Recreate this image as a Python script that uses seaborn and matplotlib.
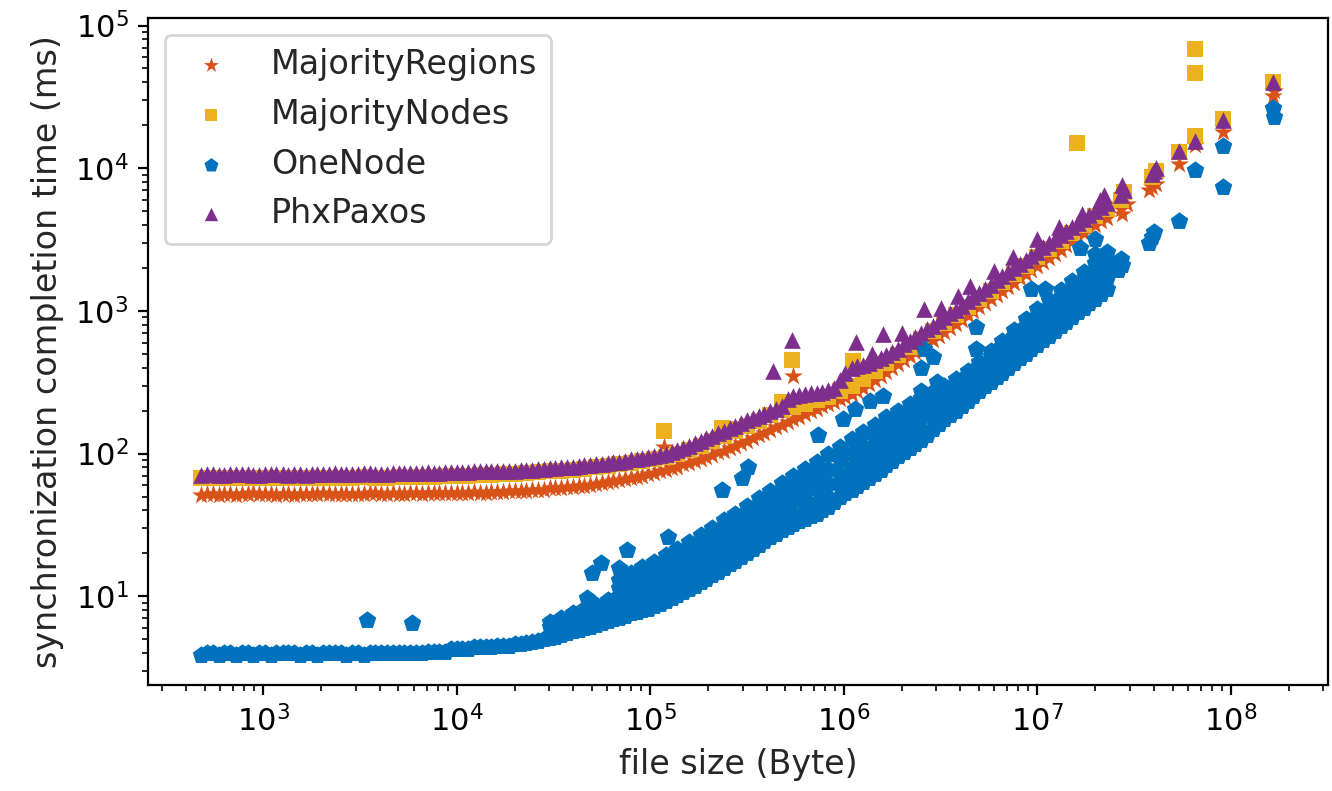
import numpy as np
import pandas as pd
import matplotlib
matplotlib.use("Agg")
import matplotlib.pyplot as plt
import matplotlib.ticker as mticker
import seaborn as sns

# file sizes (Byte) of the dense part of the sweep
file_size = [480, 550, 631, 724, 832, 955, 1100, 1260, 1450, 1660, 1900, 2190,
             2510, 2880, 3310, 3800, 4370, 5010, 5750, 6610, 7590, 8710, 10000,
             11500, 13200, 15100, 17400, 20000, 22900, 26300, 30200, 34700,
             39800, 45700, 52500, 60300, 69200, 79400, 91200, 105000, 120000,
             138000, 158000, 182000, 209000, 240000, 275000, 316000, 363000,
             417000, 479000, 550000, 631000, 724000, 832000, 955000, 1.10e6,
             1.26e6, 1.45e6, 1.66e6, 1.91e6, 2.19e6, 2.51e6, 2.88e6, 3.31e6,
             3.80e6, 4.37e6, 5.01e6, 5.75e6, 6.61e6, 7.59e6, 8.71e6, 1.00e7,
             1.15e7, 1.32e7, 1.51e7, 1.74e7, 2.00e7, 2.29e7]
# sizes in between the ones above
file_size_b = [513, 589, 676, 776, 891, 1020, 1170, 1350, 1550, 1780, 2040, 2340,
               2690, 3090, 3550, 4070, 4680, 5370, 6170, 7080, 8130, 9330, 10700,
               12300, 14100, 16200, 18600, 21400, 24500, 28200, 32400, 37200,
               42700, 49000, 56200, 64600, 74100, 85100, 97700, 112000, 129000,
               148000, 170000, 195000, 224000, 257000, 295000, 339000, 389000,
               447000, 513000, 589000, 676000, 776000, 891000, 1.02e6, 1.17e6,
               1.35e6, 1.55e6, 1.78e6, 2.04e6, 2.34e6, 2.69e6, 3.09e6, 3.55e6,
               4.07e6, 4.68e6, 5.37e6, 6.17e6, 7.08e6, 8.13e6, 9.33e6, 1.07e7,
               1.23e7, 1.41e7, 1.62e7, 1.86e7, 2.14e7]

# completion times (ms)
regions_ms = [51, 52, 52, 51, 52, 52, 52, 52, 51, 52, 52, 52, 52, 52, 52, 53, 52,
              52, 53, 52, 53, 53, 53,
              53, 53, 54, 54, 55, 55, 56, 57, 57, 58, 59, 61, 63, 65, 68, 70,
              73, 77, 81, 86, 92, 98, 105, 114, 123, 134, 146, 160, 175, 190, 206, 222,
              240, 260, 290, 330, 375, 425, 485, 550, 625, 715, 815, 930, 1060, 1210,
              1380, 1580, 1800, 2060, 2350, 2690, 3070, 3500, 3990, 4500]
regions_b_ms = [52, 51, 52, 52, 53, 52, 51, 52, 52, 52, 53, 52, 52, 52, 53, 52, 53,
                52, 53, 53, 53, 53,
                53, 54, 53, 54, 55, 55, 56, 56, 57, 58, 59, 60, 62, 64, 66, 69, 72,
                75, 79, 84, 89, 95, 102, 110, 118, 128, 140, 153, 167, 182, 198, 214, 231,
                250, 275, 310, 352, 400, 455, 515, 588, 670, 765, 870, 995, 1135, 1295,
                1480, 1690, 1930, 2200, 2520, 2880, 3280, 3740, 4250]
nodes_ms = [68, 68, 67, 68, 68, 67, 68, 68, 68, 67, 68, 68, 68, 68, 69, 68, 68,
            69, 69, 69, 69, 70, 70,
            70, 71, 71, 72, 72, 73, 74, 75, 76, 77, 78, 80, 82, 84, 86, 89,
            91, 95, 100, 106, 113, 122, 132, 144, 156, 170, 186, 201, 212, 223, 236, 250,
            276, 300, 333, 380, 431, 489, 558, 632, 719, 822, 937, 1070, 1220, 1390,
            1590, 1820, 2070, 2370, 2700, 3090, 3530, 4030, 4590, 5180]
paxos_ms = [71, 72, 71, 72, 72, 71, 72, 72, 72, 71, 72, 72, 72, 72, 73, 72, 72,
            73, 73, 73, 73, 74, 74,
            74, 75, 75, 76, 76, 77, 78, 79, 80, 81, 83, 84, 86, 88, 91, 93,
            96, 100, 106, 114, 123, 133, 145, 157, 172, 185, 198, 215, 255, 262, 268, 278,
            330, 400, 420, 450, 490, 545, 620, 700, 790, 900, 1020, 1170, 1340, 1530,
            1750, 2000, 2280, 2600, 2980, 3400, 3880, 4420, 5000, 5700]
paxos_b_ms = [72, 71, 72, 72, 71, 72, 72, 71, 72, 72, 72, 73, 72, 72, 73, 72, 73,
              73, 73, 74, 73, 74,
              74, 75, 75, 76, 76, 77, 77, 78, 79, 80, 82, 83, 85, 87, 89, 92, 94,
              98, 103, 110, 118, 128, 139, 151, 164, 178, 191, 205, 240, 258, 265, 272, 290,
              370, 410, 435, 470, 518, 582, 660, 745, 845, 960, 1090, 1250, 1430, 1640,
              1870, 2140, 2440, 2790, 3190, 3640, 4150, 4700, 5350]
onenode_ms = [3.9, 4.0, 4.0, 3.9, 4.0, 4.0, 3.9, 4.0, 4.0, 4.0, 3.9, 4.0, 4.0, 4.0,
              3.9, 4.0, 4.0, 4.0, 4.0, 4.0, 4.1, 4.1,
              4.3, 4.3, 4.4, 4.4, 4.5, 4.6, 4.7, 4.9, 5.1, 5.4, 5.7, 6.0, 6.3, 6.7,
              7.1, 7.6, 8.0,
              8.5, 9.3, 10.2, 11.3, 12.6, 14.0, 15.8, 17.8, 20, 23, 26, 29, 32, 35, 38, 42,
              50, 56, 63, 72, 83, 96, 110, 125, 148, 175, 200, 235, 275, 320, 370,
              430, 500, 580, 670, 780, 900, 1050, 1220, 1420]
onenode_b_ms = [4.0, 3.9, 4.0, 4.0, 3.9, 4.0, 4.0, 4.0, 3.9, 4.0, 4.0, 4.0, 3.9, 4.0,
                4.0, 4.0, 4.0, 4.0, 4.0, 4.1, 4.1, 4.3,
                4.3, 4.4, 4.4, 4.5, 4.5, 4.6, 4.8, 5.0, 5.2, 5.5, 5.8, 6.1, 6.5, 6.9,
                7.3, 7.8, 8.2,
                8.9, 9.7, 10.7, 11.9, 13.3, 14.9, 16.8, 18.9, 21.5, 24.5, 27.5, 30.5,
                33.5, 36.5, 40, 46,
                53, 59, 67, 77, 89, 103, 117, 136, 161, 187, 217, 255, 297, 345, 400,
                465, 540, 625, 725, 840, 975, 1130, 1320]
# OneNode spreads out for bigger files: further rows of the band (from 30 kB / 69 kB on)
onenode_low2_ms = [6.1, 6.5, 6.8, 7.2, 7.6, 8.0, 8.5, 9.1, 9.6, 10.2, 11.2, 12.2,
                   13.6, 15.1, 16.8, 19, 21.4, 24, 27.6, 31, 35, 38, 42, 46, 50, 60,
                   67, 76, 86, 100, 115, 132, 150, 178, 210, 240, 282, 330, 384, 444,
                   516, 600, 696, 804, 936, 1080, 1260, 1464, 1704]
onenode_mid_ms = [6.6, 7.1, 7.6, 8.1, 8.7, 9.4, 10.1, 10.9, 11.6, 12.3, 13.5, 14.8,
                  16.4, 18.3, 20.3, 22.9, 25.8, 29, 33, 38, 42, 47, 52, 57, 62, 72,
                  81, 91, 104, 120, 139, 160, 181, 210, 245, 280, 330, 385, 450, 520,
                  610, 710, 830, 960, 1110, 1280, 1490, 1730, 2010]
onenode_up2_ms = [11.5, 12.6, 13.6, 14.7, 16.2, 17.8, 19.8, 22.2, 24.7, 27.9, 31.3,
                  35.3, 40.3, 45.8, 51, 57, 64, 71, 78, 90, 101, 114, 129, 147, 167,
                  188, 210, 238, 271, 306, 354, 411, 484, 568, 672, 790, 925, 1073,
                  1247, 1440, 1674, 1942, 2286]
onenode_high_ms = [13, 14.5, 16, 17.5, 19.5, 21.5, 24, 27, 30, 34, 38, 43, 49, 55,
                   62, 70, 78, 88, 99, 112, 126, 142, 160, 180, 200, 222, 245, 270,
                   300, 335, 380, 440, 520, 620, 740, 880, 1030, 1200, 1400, 1620,
                   1880, 2180, 2600]

# large files and stray runs
regions_extra_x = [118000, 550000, 2.7e7, 2.75e7, 2.9e7, 3.9e7, 3.8e7, 4.1e7,
                   5.4e7, 6.5e7, 9.1e7, 1.66e8, 1.68e8]
regions_extra_y = [112, 348, 5200, 4800, 5600, 7400, 7000, 7800, 10700, 14500,
                   18000, 32000, 35000]
nodes_extra_x = [118000, 235000, 260000, 480000, 540000, 1.12e6, 1.6e7, 2.7e7,
                 2.8e7, 3.9e7, 4.1e7, 5.4e7, 6.5e7, 6.5e7, 6.5e7, 9.1e7, 1.66e8]
nodes_extra_y = [143, 152, 150, 230, 450, 445, 15000, 6000, 6800, 8700, 9600,
                 13000, 16800, 46500, 69000, 22000, 40000]
onenode_extra_x = [3460, 5900, 47000, 50000, 56000, 69000, 76000, 123000, 235000,
                   297000, 320000, 740000, 990000, 1.14e6, 1.37e6, 1.6e6, 2.5e6,
                   2.5e6, 2.6e6, 2.9e6, 3.05e6, 4.8e6, 4.8e6, 9.3e6, 1.1e7, 1.67e7,
                   2.0e7, 2.0e7, 2.6e7, 2.7e7, 2.75e7, 3.8e7, 3.9e7, 4.0e7, 5.4e7,
                   6.5e7, 9.1e7, 9.1e7, 1.66e8, 1.67e8]
onenode_extra_y = [6.8, 6.5, 9.7, 14.5, 17, 15.7, 21, 26, 56, 68, 80, 136, 174,
                   204, 232, 252, 400, 273, 540, 474, 317, 770, 540, 1430, 1430, 2740,
                   3200, 2500, 1950, 2300, 2100, 3000, 3300, 3600, 4300, 9700, 14200,
                   7400, 26500, 23000]
paxos_extra_x = [430000, 540000, 1.16e6, 1.4e6, 1.6e6, 2.0e6, 2.6e6, 3.2e6, 3.9e6,
                 4.5e6, 6.0e6, 7.5e6, 1.0e7, 1.3e7, 1.7e7, 2.1e7, 2.2e7, 2.7e7,
                 2.75e7, 2.8e7, 3.9e7, 4.0e7, 4.1e7, 5.4e7, 6.5e7, 9.1e7, 1.66e8]
paxos_extra_y = [380, 625, 605, 500, 690, 700, 1030, 1050, 1270, 1500, 1900, 2400,
                 3200, 3900, 4800, 6000, 6500, 6500, 7600, 7000, 9100, 9500, 10000,
                 13200, 15500, 21800, 40500]

sns.set_style("ticks")
plt.rcParams["font.family"] = ["DejaVu Sans"]
plt.rcParams["axes.edgecolor"] = "black"
plt.rcParams["xtick.color"] = "black"
plt.rcParams["ytick.color"] = "black"

fig = plt.figure(figsize=(6.66, 3.955), dpi=200)
ax = fig.add_axes([0.111, 0.134, 0.886, 0.843])

onenode_x = (file_size + file_size_b + file_size[30:] + file_size[30:]
             + file_size[36:] + file_size[36:] + onenode_extra_x)
onenode_y = (onenode_ms + onenode_b_ms + onenode_low2_ms + onenode_mid_ms
             + onenode_up2_ms + onenode_high_ms + onenode_extra_y)

series = [
    ("MajorityRegions", "*", "#D95319", 50,
     file_size + file_size_b + regions_extra_x,
     regions_ms + regions_b_ms + regions_extra_y),
    ("MajorityNodes", "s", "#EDB120", 34,
     file_size + nodes_extra_x, nodes_ms + nodes_extra_y),
    ("OneNode", "p", "#0072BD", 44, onenode_x, onenode_y),
    ("PhxPaxos", "^", "#7E2F8E", 36,
     file_size + file_size_b + paxos_extra_x, paxos_ms + paxos_b_ms + paxos_extra_y),
]

for name, mk, col, size, xs, ys in series:
    sns.scatterplot(x=xs, y=ys, marker=mk, color=col, s=size, linewidth=0,
                    label=name, ax=ax)

ax.set_xscale("log")
ax.set_yscale("log")
ax.xaxis.set_minor_formatter(mticker.NullFormatter())
ax.yaxis.set_minor_formatter(mticker.NullFormatter())
ax.tick_params(axis="both", which="major", labelsize=11)
ax.set_xlabel("file size (Byte)", fontsize=12)
ax.set_ylabel("synchronization completion time (ms)", fontsize=12)
ax.legend(loc="upper left", fontsize=12, markerscale=0.8)

fig.savefig("out.png", dpi=200)
